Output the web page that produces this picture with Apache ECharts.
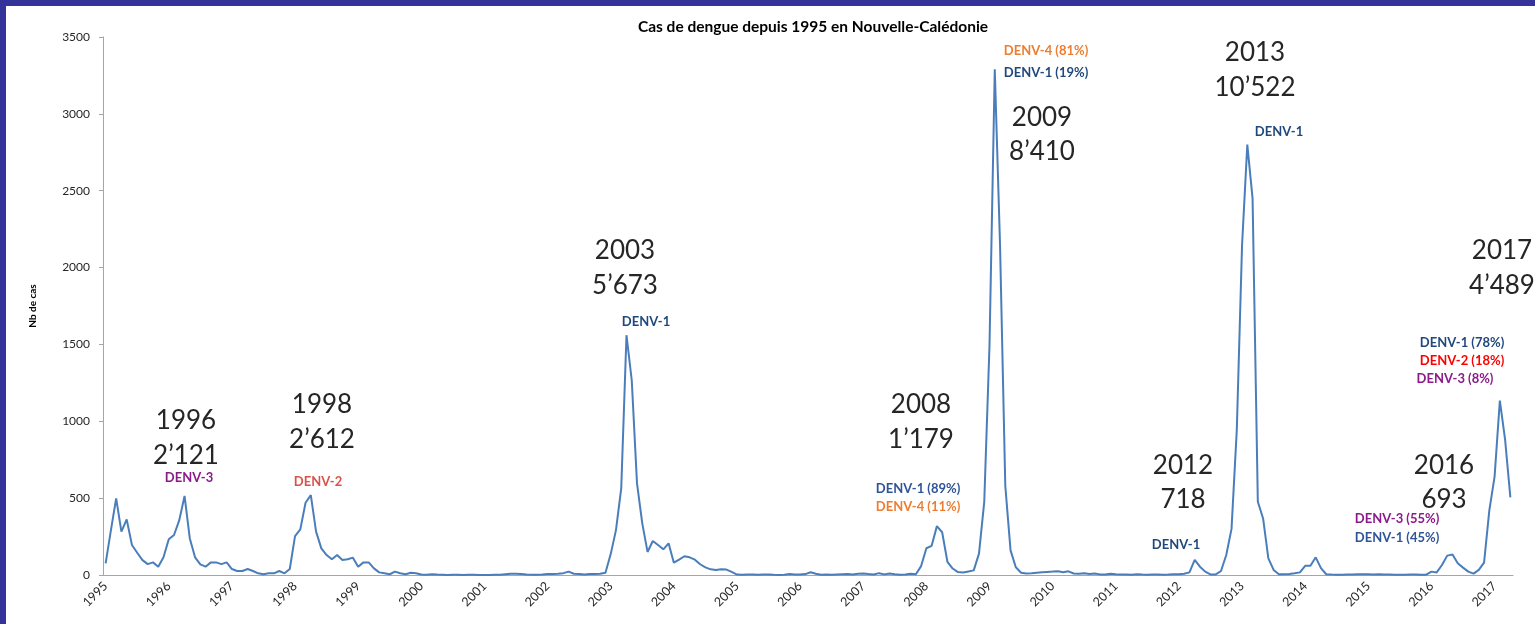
<!DOCTYPE html>
<html>
<head>
<meta charset="utf-8">
<script src="https://cdn.jsdelivr.net/npm/echarts@6/dist/echarts.min.js"></script>
<style>
  html, body { margin: 0; padding: 0; background: #fff; }
  #chart { width: 1535px; height: 624px; }
</style>
</head>
<body>
<div id="chart"></div>
<script>
// years shown on the x axis (one label each January)
const years = [1995, 1996, 1997, 1998, 1999, 2000, 2001, 2002, 2003, 2004, 2005, 2006,
  2007, 2008, 2009, 2010, 2011, 2012, 2013, 2014, 2015, 2016, 2017];

// monthly cases, Jan 1995 -> Apr 2017
const cases1995 = [76, 290, 498, 282, 362, 195, 145, 97, 71, 82, 54, 115];
const cases1996 = [232, 260, 357, 514, 238, 115, 69, 54, 82, 82, 71, 82];
const cases1997 = [39, 26, 26, 39, 26, 11, 5, 11, 11, 26, 11, 39];
const cases1998 = [253, 297, 470, 520, 282, 173, 130, 102, 130, 97, 102, 113];
const cases1999 = [54, 82, 82, 43, 17, 11, 5, 22, 11, 5, 15, 11];
const cases2000 = [3, 2, 5, 3, 2, 0, 2, 1, 0, 2, 1, 0];
const cases2001 = [0, 0, 1, 2, 5, 8, 8, 7, 3, 2, 2, 3];
const cases2002 = [6, 7, 8, 12, 22, 8, 6, 3, 6, 7, 8, 15];
const cases2003 = [136, 292, 563, 1560, 1267, 596, 336, 150, 221, 195, 167, 206];
const cases2004 = [80, 100, 122, 115, 100, 70, 50, 37, 32, 38, 35, 20];
const cases2005 = [3, 2, 3, 3, 2, 4, 3, 1, 0, 2, 6, 4];
const cases2006 = [3, 6, 18, 8, 2, 3, 2, 4, 5, 6, 4, 8];
const cases2007 = [10, 6, 3, 12, 4, 10, 5, 2, 3, 8, 5, 58];
const cases2008 = [174, 190, 318, 278, 86, 42, 19, 16, 23, 30, 139, 476];
const cases2009 = [1496, 3290, 2150, 580, 160, 50, 15, 10, 12, 15, 18, 20];
const cases2010 = [22, 25, 18, 24, 10, 8, 12, 6, 10, 4, 3, 8];
const cases2011 = [5, 3, 4, 2, 5, 3, 2, 4, 3, 2, 3, 5];
const cases2012 = [5, 8, 17, 98, 54, 22, 4, 4, 26, 130, 300, 943];
const cases2013 = [2145, 2800, 2450, 477, 368, 108, 33, 5, 5, 6, 11, 17];
const cases2014 = [60, 60, 115, 45, 5, 3, 2, 2, 3, 4, 5, 5];
const cases2015 = [5, 4, 5, 4, 3, 2, 2, 2, 3, 3, 2, 2];
const cases2016 = [22, 17, 65, 126, 134, 76, 48, 22, 9, 33, 80, 420];
const cases2017 = [640, 1135, 880, 505];

const cases = [].concat(cases1995, cases1996, cases1997, cases1998, cases1999,
  cases2000, cases2001, cases2002, cases2003, cases2004, cases2005, cases2006,
  cases2007, cases2008, cases2009, cases2010, cases2011, cases2012, cases2013,
  cases2014, cases2015, cases2016, cases2017);

// one category per month, labelled with the year
const months = cases.map((v, i) => String(years[Math.floor(i / 12)]));

const bigFont = "26px Lato";
const smallFont = "bold 13px Lato";
const darkText = "#262626";
const blue1 = "#1F497D";
const purple = "#8B1A8B";
const orange = "#ED7D31";

// annotations: [text, x, y, color, font]
const notes = [
  ["1996", 186, 421, darkText, bigFont],
  ["2\u2019121", 186, 456, darkText, bigFont],
  ["DENV-3", 189, 478, purple, smallFont],
  ["1998", 322, 405, darkText, bigFont],
  ["2\u2019612", 322, 440, darkText, bigFont],
  ["DENV-2", 318, 482, "#D9534A", smallFont],
  ["2003", 625, 251, darkText, bigFont],
  ["5\u2019673", 625, 286, darkText, bigFont],
  ["DENV-1", 646, 322, blue1, smallFont],
  ["2008", 921, 405, darkText, bigFont],
  ["1\u2019179", 921, 440, darkText, bigFont],
  ["DENV-1 (89%)", 918, 489, "#2F5597", smallFont],
  ["DENV-4 (11%)", 918, 507, orange, smallFont],
  ["DENV-4 (81%)", 1046, 51, orange, smallFont],
  ["DENV-1 (19%)", 1046, 73, blue1, smallFont],
  ["2009", 1042, 118, darkText, bigFont],
  ["8\u2019410", 1042, 152, darkText, bigFont],
  ["2013", 1255, 53, darkText, bigFont],
  ["10\u2019522", 1255, 88, darkText, bigFont],
  ["DENV-1", 1279, 132, blue1, smallFont],
  ["2012", 1183, 466, darkText, bigFont],
  ["718", 1183, 500, darkText, bigFont],
  ["DENV-1", 1176, 545, blue1, smallFont],
  ["2016", 1444, 466, darkText, bigFont],
  ["693", 1444, 500, darkText, bigFont],
  ["DENV-3 (55%)", 1397, 519, purple, smallFont],
  ["DENV-1 (45%)", 1397, 538, "#2F5597", smallFont],
  ["2017", 1502, 251, darkText, bigFont],
  ["4\u2019489", 1502, 286, darkText, bigFont],
  ["DENV-1 (78%)", 1462, 343, blue1, smallFont],
  ["DENV-2 (18%)", 1462, 361, "#FF0000", smallFont],
  ["DENV-3 (8%)", 1455, 379, purple, smallFont],
];

const frame = [
  { type: "rect", shape: { x: 0, y: 0, width: 1535, height: 6 }, style: { fill: "#333399" } },
  { type: "rect", shape: { x: 0, y: 0, width: 6, height: 624 }, style: { fill: "#333399" } },
];

const chart = echarts.init(document.getElementById("chart"));
chart.setOption({
  animation: false,
  title: {
    text: "Cas de dengue depuis 1995 en Nouvelle-Calédonie",
    left: 808,
    top: 14,
    textAlign: "center",
    textStyle: { fontFamily: "Lato", fontWeight: "bold", fontSize: 15.5, color: "#000" },
  },
  grid: { left: 103, right: 22, top: 37, bottom: 49 },
  xAxis: {
    type: "category",
    data: months,
    boundaryGap: true,
    axisLine: { lineStyle: { color: "#A6A6A6", width: 1 } },
    axisTick: { interval: 0, length: 6, lineStyle: { color: "#A6A6A6" } },
    axisLabel: {
      interval: (idx) => idx % 12 === 0,
      rotate: 45,
      margin: 9,
      fontFamily: "Lato",
      fontSize: 12.5,
      color: "#262626",
    },
  },
  yAxis: {
    type: "value",
    min: 0,
    max: 3500,
    interval: 500,
    name: "Nb de cas",
    nameLocation: "middle",
    nameGap: 65,
    nameRotate: 90,
    nameTextStyle: { fontFamily: "Lato", fontWeight: "bold", fontSize: 10, color: "#000" },
    axisLine: { show: true, lineStyle: { color: "#A6A6A6", width: 1 } },
    axisTick: { show: true, length: 4, lineStyle: { color: "#A6A6A6" } },
    splitLine: { show: false },
    axisLabel: {
      fontFamily: "Lato",
      fontSize: 12,
      color: "#262626",
      margin: 13,
      formatter: (v) => String(v),
    },
  },
  series: [
    {
      type: "line",
      data: cases,
      showSymbol: false,
      lineStyle: { color: "#4A7EBB", width: 2 },
    },
  ],
  graphic: frame.concat(
    notes.map(([text, x, y, color, font]) => ({
      type: "text",
      x: x,
      y: y,
      style: { text: text, fill: color, font: font, textAlign: "center", textVerticalAlign: "middle" },
    }))
  ),
});
</script>
</body>
</html>
